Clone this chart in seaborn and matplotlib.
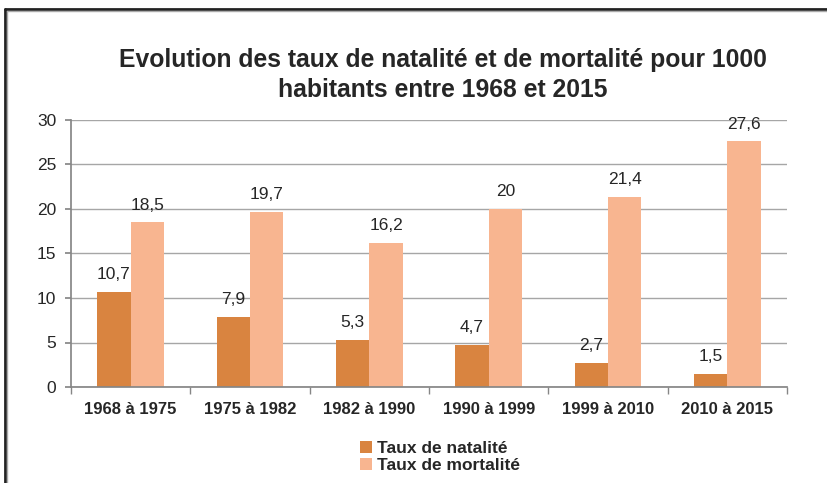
import matplotlib
matplotlib.use("Agg")
import matplotlib.pyplot as plt
import seaborn as sns
import pandas as pd
from matplotlib.lines import Line2D
from matplotlib.patches import Patch

categories = ["1968 à 1975", "1975 à 1982", "1982 à 1990", "1990 à 1999", "1999 à 2010", "2010 à 2015"]
natalite = [10.7, 7.9, 5.3, 4.7, 2.7, 1.5]
mortalite = [18.5, 19.7, 16.2, 20, 21.4, 27.6]
series_names = ["Taux de natalité", "Taux de mortalité"]
colors = ["#D98440", "#F8B590"]
title = "Evolution des taux de natalité et de mortalité pour 1000\nhabitants entre 1968 et 2015"

df = pd.DataFrame({
    "cat": categories * 2,
    "val": natalite + mortalite,
    "serie": [series_names[0]] * len(categories) + [series_names[1]] * len(categories),
})

sns.set_theme(style="white")
plt.rcParams["font.family"] = ["Liberation Sans", "DejaVu Sans"]

fig = plt.figure(figsize=(8.27, 4.83), dpi=100)
W, H = 827, 483
ax = fig.add_axes([71 / W, 1 - 387 / H, (787 - 71) / W, (387 - 120) / H])

sns.barplot(data=df, x="cat", y="val", hue="serie", palette=colors, width=0.56,
            saturation=1, ax=ax, legend=False, edgecolor="none", linewidth=0)

ax.set_ylim(0, 30)
ax.set_xlim(-0.5, len(categories) - 0.5)
ax.set_yticks(range(0, 31, 5))
ax.set_yticklabels([str(v) for v in range(0, 31, 5)], fontsize=12.5)
ax.yaxis.grid(True, color="#A6A6A6", linewidth=1)
ax.set_axisbelow(True)
ax.set_xlabel("")
ax.set_ylabel("")
ax.set_xticks(range(len(categories)))
ax.set_xticklabels(categories, fontsize=12, fontweight="bold")
ax.tick_params(axis="x", length=0, pad=11)
ax.tick_params(axis="y", length=4.5, color="#868686", pad=6, left=True)
# minor ticks between categories
ax.set_xticks([i - 0.5 for i in range(len(categories) + 1)], minor=True)
ax.tick_params(axis="x", which="minor", length=5, color="#868686", bottom=True, direction="out")

for s in ["top", "right"]:
    ax.spines[s].set_visible(False)
ax.spines["left"].set_color("#868686")
ax.spines["bottom"].set_color("#868686")

for cont in ax.containers:
    labels = [("%g" % v).replace(".", ",") for v in cont.datavalues]
    ax.bar_label(cont, labels=labels, padding=7, fontsize=12.5)

fig.text(0.535, 1 - 75 / H, title, ha="center", va="center", fontsize=17.8,
         fontweight="bold", linespacing=1.3)

handles = [Patch(facecolor=c, edgecolor="none") for c in colors]
fig.legend(handles, series_names, loc="center", bbox_to_anchor=(440 / W, 1 - 457 / H),
           ncol=1, frameon=False, prop={"weight": "bold", "size": 12.5},
           handlelength=0.7, handleheight=0.7, handletextpad=0.3, labelspacing=0.1)

# border (top and left)
fig.add_artist(Line2D([5 / W, 5 / W], [0, 1 - 9 / H], transform=fig.transFigure, color="#222222", linewidth=2))
fig.add_artist(Line2D([5 / W, 1], [1 - 9 / H, 1 - 9 / H], transform=fig.transFigure, color="#222222", linewidth=2))
fig.add_artist(Line2D([7 / W, 7 / W], [0, 1 - 11 / H], transform=fig.transFigure, color="#AAAAAA", linewidth=1))
fig.add_artist(Line2D([7 / W, 1], [1 - 11 / H, 1 - 11 / H], transform=fig.transFigure, color="#AAAAAA", linewidth=1))

fig.savefig("out.png", dpi=100)
